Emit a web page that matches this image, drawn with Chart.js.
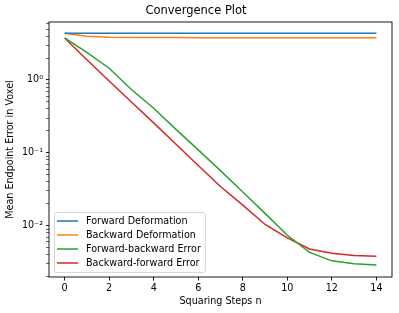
<!DOCTYPE html>
<html>
<head>
<meta charset="utf-8">
<script src="https://cdn.jsdelivr.net/npm/chart.js@4.4.0/dist/chart.umd.min.js"></script>
<style>
  html, body { margin: 0; padding: 0; background: #fff; }
</style>
</head>
<body>
<canvas id="convergence-chart" width="399" height="313"></canvas>
<script>
// data
const steps = [0, 1, 2, 3, 4, 5, 6, 7, 8, 9, 10, 11, 12, 13, 14];
const forwardDeformation = [4.38, 4.37, 4.37, 4.37, 4.37, 4.37, 4.37, 4.37, 4.37, 4.37, 4.37, 4.37, 4.37, 4.37, 4.37];
const backwardDeformation = [4.38, 3.98, 3.86, 3.83, 3.82, 3.82, 3.81, 3.81, 3.81, 3.81, 3.81, 3.81, 3.81, 3.81, 3.81];
const forwardBackwardError = [3.78, 2.4, 1.45, 0.74, 0.41, 0.21, 0.11, 0.057, 0.029, 0.0148, 0.0074, 0.0043, 0.0033, 0.0030, 0.0029];
const backwardForwardError = [3.78, 1.9, 0.97, 0.50, 0.258, 0.131, 0.067, 0.0345, 0.0192, 0.0104, 0.0068, 0.0048, 0.0042, 0.0039, 0.0038];

const seriesNames = ['Forward Deformation', 'Backward Deformation', 'Forward-backward Error', 'Backward-forward Error'];
const seriesColors = ['#1f77b4', '#ff7f0e', '#2ca02c', '#d62728'];

const xTicks = [0, 2, 4, 6, 8, 10, 12, 14];
const yMajorTicks = [0.01, 0.1, 1];
const yTickLabels = ['10\u207B\u00B2', '10\u207B\u00B9', '10\u2070'];

const FONT = 'DejaVu Sans';
const FONT_SIZE = 9.6;

function toPoints(values) {
    return values.map((v, i) => ({ x: steps[i], y: v }));
}

// box around the plot area (matplotlib spines)
const frame = {
    id: 'frame',
    afterDatasetsDraw(chart) {
        const { ctx, chartArea } = chart;
        ctx.save();
        ctx.strokeStyle = '#000';
        ctx.lineWidth = 0.9;
        ctx.strokeRect(chartArea.left, chartArea.top, chartArea.right - chartArea.left, chartArea.bottom - chartArea.top);
        ctx.restore();
    }
};

// legend in the lower left corner of the plot area
const cornerLegend = {
    id: 'cornerLegend',
    afterDraw(chart) {
        const { ctx, chartArea } = chart;
        const sets = chart.data.datasets;
        ctx.save();
        ctx.font = FONT_SIZE + 'px "' + FONT + '"';
        const rowH = 14;
        const textW = Math.max(...sets.map(d => ctx.measureText(d.label).width));
        const w = 32 + textW + 4;
        const h = (sets.length - 1) * rowH + 18;
        const x0 = chartArea.left + 5;
        const y0 = chartArea.bottom - 5 - h;

        ctx.beginPath();
        ctx.roundRect(x0 + 0.5, y0 + 0.5, w, h, 2);
        ctx.fillStyle = 'rgba(255,255,255,0.8)';
        ctx.fill();
        ctx.strokeStyle = '#cccccc';
        ctx.lineWidth = 0.8;
        ctx.stroke();

        sets.forEach((d, i) => {
            const y = y0 + 9 + i * rowH;
            ctx.beginPath();
            ctx.moveTo(x0 + 3, y);
            ctx.lineTo(x0 + 24, y);
            ctx.strokeStyle = d.borderColor;
            ctx.lineWidth = 1.5;
            ctx.stroke();
            ctx.fillStyle = '#000';
            ctx.textBaseline = 'middle';
            ctx.fillText(d.label, x0 + 32, y + 0.5);
        });
        ctx.restore();
    }
};

const datasets = [forwardDeformation, backwardDeformation, forwardBackwardError, backwardForwardError].map((vals, i) => ({
    label: seriesNames[i],
    data: toPoints(vals),
    borderColor: seriesColors[i],
    backgroundColor: seriesColors[i],
    borderWidth: 1.5,
    pointRadius: 0,
    tension: 0,
    fill: false
}));

new Chart(document.getElementById('convergence-chart'), {
    type: 'line',
    data: { datasets: datasets },
    options: {
        responsive: false,
        animation: false,
        devicePixelRatio: 1,
        layout: { padding: { left: 0, right: 7, top: 0, bottom: 0 } },
        plugins: {
            legend: { display: false },
            tooltip: { enabled: false },
            title: {
                display: true,
                text: 'Convergence Plot',
                color: '#000',
                font: { family: FONT, size: 11.5, weight: 'normal', lineHeight: 1.2 },
                padding: { top: 4.5, bottom: 3.7 }
            }
        },
        scales: {
            x: {
                type: 'linear',
                min: -0.7,
                max: 14.7,
                afterBuildTicks: (scale) => { scale.ticks = xTicks.map(v => ({ value: v })); },
                afterFit: (scale) => { scale.height = 36; },
                ticks: {
                    color: '#000',
                    font: { family: FONT, size: FONT_SIZE },
                    padding: 2,
                    autoSkip: false,
                    maxRotation: 0,
                    callback: (v) => String(v)
                },
                grid: { drawOnChartArea: false, tickLength: 3.5, tickColor: '#000', tickWidth: 0.9 },
                border: { display: false },
                title: {
                    display: true,
                    text: 'Squaring Steps n',
                    color: '#000',
                    font: { family: FONT, size: FONT_SIZE },
                    padding: { top: 0, bottom: 6 }
                }
            },
            y: {
                type: 'logarithmic',
                min: 0.00198,
                max: 6.25,
                afterBuildTicks: (scale) => {
                    const t = [];
                    for (let e = -3; e <= 0; e++) {
                        for (let m = 1; m <= 9; m++) {
                            const v = m * Math.pow(10, e);
                            if (v >= scale.min && v <= scale.max) t.push({ value: v, major: m === 1 });
                        }
                    }
                    scale.ticks = t;
                },
                afterFit: (scale) => { scale.width = 49; },
                ticks: {
                    color: '#000',
                    font: { family: FONT, size: FONT_SIZE },
                    padding: 3,
                    autoSkip: false,
                    callback: (v) => {
                        const i = yMajorTicks.findIndex(m => Math.abs(m - v) < m * 1e-6);
                        return i >= 0 ? yTickLabels[i] : '';
                    }
                },
                grid: {
                    drawOnChartArea: false,
                    tickLength: 3,
                    tickColor: '#000',
                    tickWidth: (ctx) => (ctx.tick && ctx.tick.major ? 0.9 : 0.6)
                },
                border: { display: false },
                title: {
                    display: true,
                    text: 'Mean Endpoint Error in Voxel',
                    color: '#000',
                    font: { family: FONT, size: FONT_SIZE },
                    padding: { top: 5, bottom: 0 }
                }
            }
        }
    },
    plugins: [frame, cornerLegend]
});
</script>
</body>
</html>
